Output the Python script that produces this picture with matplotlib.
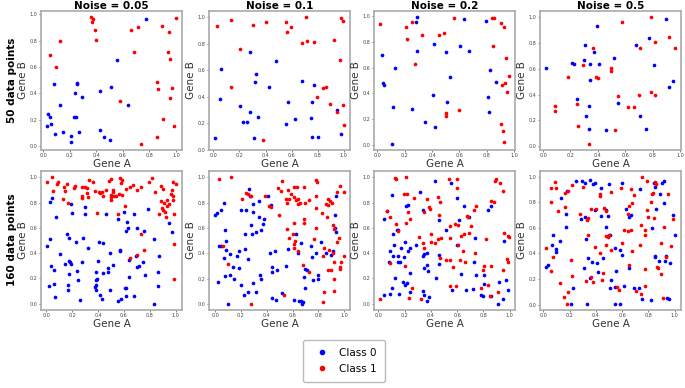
import numpy as np
import matplotlib
matplotlib.use("Agg")
import matplotlib.pyplot as plt
from matplotlib.lines import Line2D

noise_levels = ["0.05", "0.1", "0.2", "0.5"]
row_labels = ["50 data points", "160 data points"]
class_labels = ["Class 0", "Class 1"]
class_colors = ["blue", "red"]

# ---------- 50 data points ----------
n50_a_c0 = [(0.771,0.965),(0.553,0.653),(0.080,0.470),(0.256,0.478),(0.256,0.468),(0.236,0.403),(0.294,0.373),
            (0.123,0.313),(0.425,0.415),(0.513,0.445),(0.636,0.315),(0.033,0.245),(0.053,0.218),(0.030,0.153),
            (0.060,0.170),(0.231,0.218),(0.244,0.218),(0.088,0.090),(0.146,0.103),(0.271,0.110),(0.209,0.078),
            (0.206,0.030),(0.430,0.123),(0.457,0.065),(0.505,0.045)]
n50_a_c1 = [(0.357,0.978),(0.377,0.963),(0.369,0.945),(0.392,0.885),(0.394,0.808),(0.128,0.795),(0.050,0.688),
            (0.095,0.600),(0.663,0.878),(0.714,0.903),(0.681,0.718),(0.897,0.913),(0.950,0.865),(0.997,0.975),
            (0.942,0.713),(0.957,0.663),(0.854,0.488),(0.867,0.430),(0.970,0.440),(0.955,0.368),(0.580,0.345),
            (0.899,0.205),(0.982,0.153),(0.854,0.068),(0.739,0.018)]

n50_b_c0 = [(0.281,0.740),(0.482,0.665),(0.056,0.607),(0.327,0.573),(0.321,0.511),(0.429,0.470),(0.684,0.516),
            (0.770,0.489),(0.204,0.330),(0.281,0.289),(0.224,0.212),(0.260,0.214),(0.344,0.251),(0.571,0.361),
            (0.755,0.357),(0.952,0.304),(0.747,0.243),(0.556,0.198),(0.628,0.231),(0.309,0.092),(0.755,0.099),
            (0.806,0.096),(0.977,0.120),(0.015,0.092),(0.050,0.386)]
n50_b_c1 = [(0.026,0.928),(0.133,0.978),(0.301,0.937),(0.401,0.961),(0.556,0.959),(0.597,0.925),(0.566,0.884),
            (0.714,0.998),(0.681,0.807),(0.717,0.822),(0.770,0.810),(0.202,0.759),(0.133,0.470),(0.929,0.824),
            (0.980,0.993),(0.997,0.969),(0.969,0.675),(0.842,0.467),(0.867,0.470),(0.793,0.395),(0.895,0.342),
            (0.995,0.337),(0.949,0.287),(1.000,0.186),(0.380,0.072)]

n50_c_c0 = [(0.286,0.992),(0.279,0.954),(0.636,0.977),(0.796,0.961),(0.413,0.781),(0.286,0.730),(0.498,0.725),
            (0.604,0.769),(0.670,0.730),(0.036,0.699),(0.129,0.594),(0.823,0.581),(0.041,0.483),(0.051,0.463),
            (0.529,0.530),(0.866,0.488),(0.403,0.386),(0.510,0.334),(0.808,0.373),(0.117,0.296),(0.252,0.278),
            (0.816,0.252),(0.350,0.180),(0.422,0.139),(0.107,0.008)]
n50_c_c1 = [(0.022,0.938),(0.211,0.918),(0.252,0.959),(0.218,0.825),(0.328,0.851),(0.451,0.853),(0.485,0.866),
            (0.563,0.987),(0.840,0.987),(0.854,0.990),(0.905,0.949),(0.925,0.913),(0.845,0.769),(0.274,0.625),
            (0.939,0.679),(0.959,0.532),(0.932,0.483),(0.908,0.463),(0.951,0.409),(0.597,0.267),(0.500,0.244),
            (0.500,0.221),(0.903,0.162),(0.920,0.103),(0.922,0.018)]

n50_d_c0 = [(0.901,0.982),(0.395,0.931),(0.775,0.835),(0.305,0.781),(0.678,0.781),(0.375,0.728),(0.298,0.664),
            (0.211,0.641),(0.225,0.639),(0.339,0.639),(0.412,0.636),(0.521,0.682),(0.024,0.606),(0.809,0.629),
            (0.339,0.511),(0.949,0.504),(0.923,0.458),(0.247,0.369),(0.334,0.313),(0.547,0.333),(0.312,0.234),
            (0.705,0.237),(0.334,0.130),(0.458,0.122),(0.753,0.137)]
n50_d_c1 = [(0.785,0.997),(0.574,0.959),(0.920,0.845),(0.818,0.804),(0.961,0.758),(0.705,0.761),(0.366,0.758),
            (0.291,0.631),(0.496,0.606),(0.496,0.583),(0.179,0.532),(0.385,0.532),(0.404,0.524),(0.087,0.310),
            (0.085,0.275),(0.247,0.328),(0.257,0.160),(0.550,0.387),(0.620,0.305),(0.666,0.303),(0.700,0.399),
            (0.792,0.420),(0.816,0.394),(0.528,0.127),(0.334,0.020)]

# ---------- 160 data points ----------
n160_a_c0 = [(0.031,0.807),(0.046,0.833),(0.075,0.686),(0.193,0.791),(0.196,0.720),(0.302,0.765),(0.296,0.712),
             (0.162,0.553),(0.175,0.522),(0.031,0.509),(0.227,0.485),(0.284,0.522),(0.405,0.490),(0.436,0.482),
             (0.464,0.710),(0.554,0.671),(0.603,0.728),(0.624,0.644),(0.619,0.579),(0.634,0.600),(0.678,0.707),
             (0.701,0.595),(0.755,0.579),(0.786,0.752),(0.835,0.512),(0.948,0.642),(0.969,0.569),(0.008,0.455),
             (0.106,0.392),(0.034,0.301),(0.057,0.267),(0.147,0.314),(0.175,0.340),(0.186,0.327),(0.191,0.314),
             (0.325,0.437),(0.278,0.332),(0.399,0.340),(0.490,0.405),(0.567,0.413),(0.572,0.424),(0.518,0.306),
             (0.479,0.282),(0.479,0.248),(0.436,0.243),(0.381,0.254),(0.392,0.196),(0.387,0.186),(0.235,0.261),
             (0.242,0.191),(0.175,0.233),(0.170,0.149),(0.170,0.112),(0.057,0.157),(0.021,0.139),(0.070,0.050),
             (0.258,0.029),(0.381,0.144),(0.379,0.131),(0.381,0.105),(0.415,0.065),(0.428,0.034),(0.495,0.112),
             (0.552,0.018),(0.575,0.034),(0.619,0.123),(0.608,0.123),(0.619,0.063),(0.639,0.214),(0.639,0.348),
             (0.680,0.060),(0.701,0.293),(0.716,0.301),(0.696,0.379),(0.750,0.332),(0.763,0.227),(0.830,0.000),
             (0.861,0.139),(0.866,0.248),(0.871,0.376)]
n160_a_c1 = [(0.008,0.966),(0.046,1.000),(0.054,0.893),(0.082,0.948),(0.090,0.961),(0.131,0.830),(0.142,0.893),
             (0.139,0.927),(0.160,0.945),(0.170,0.796),(0.211,0.919),(0.224,0.935),(0.273,0.854),(0.273,0.836),
             (0.278,0.920),(0.299,0.927),(0.312,0.875),(0.320,0.843),(0.317,0.914),(0.332,0.982),(0.361,0.964),
             (0.379,0.893),(0.394,0.718),(0.405,0.880),(0.418,0.875),(0.428,0.883),(0.436,0.856),(0.461,0.901),
             (0.487,0.974),(0.503,0.985),(0.497,0.862),(0.503,0.822),(0.503,0.843),(0.515,0.883),(0.515,0.896),
             (0.526,0.854),(0.541,0.854),(0.552,0.713),(0.562,0.869),(0.570,0.993),(0.575,0.954),(0.582,0.980),
             (0.582,0.859),(0.608,0.775),(0.613,0.906),(0.649,0.927),(0.670,0.940),(0.698,0.896),(0.732,0.927),
             (0.732,0.553),(0.796,0.966),(0.820,0.998),(0.838,0.885),(0.869,0.710),(0.887,0.815),(0.889,0.932),
             (0.899,0.911),(0.894,0.757),(0.899,0.744),(0.912,0.796),(0.918,0.723),(0.923,0.686),(0.933,0.817),
             (0.933,0.775),(0.948,0.786),(0.961,0.869),(0.972,0.901),(0.977,0.964),(0.979,0.854),(0.979,0.820),
             (0.987,0.710),(1.000,0.948),(0.985,0.475),(0.644,0.358),(0.698,0.384),(0.753,0.424),(0.985,0.199)]

n160_b_c0 = [(0.003,0.705),(0.018,0.715),(0.044,0.744),(0.070,0.794),(0.080,0.587),(0.088,0.500),(0.201,0.744),
             (0.240,0.744),(0.263,0.909),(0.271,0.854),(0.291,0.788),(0.294,0.723),(0.276,0.627),(0.232,0.553),
             (0.286,0.556),(0.320,0.571),(0.358,0.587),(0.340,0.817),(0.343,0.684),(0.381,0.673),(0.371,0.634),
             (0.407,0.856),(0.430,0.780),(0.626,0.556),(0.662,0.483),(0.742,0.462),(0.822,0.493),(0.938,0.851),
             (0.928,0.702),(0.930,0.600),(0.936,0.571),(0.031,0.460),(0.046,0.455),(0.088,0.426),(0.067,0.366),
             (0.116,0.392),(0.183,0.418),(0.170,0.379),(0.232,0.431),(0.258,0.358),(0.137,0.290),(0.183,0.288),
             (0.075,0.220),(0.116,0.227),(0.149,0.196),(0.023,0.178),(0.201,0.152),(0.222,0.071),(0.253,0.099),
             (0.291,0.170),(0.317,0.097),(0.345,0.227),(0.356,0.196),(0.103,0.003),(0.428,0.405),(0.464,0.421),
             (0.443,0.293),(0.443,0.256),(0.479,0.267),(0.438,0.044),(0.472,0.029),(0.521,0.084),(0.552,0.298),
             (0.567,0.437),(0.608,0.031),(0.639,0.400),(0.652,0.026),(0.665,0.021),(0.670,0.003),(0.680,0.013),
             (0.686,0.217),(0.696,0.275),(0.711,0.267),(0.696,0.125),(0.747,0.371),(0.781,0.405),(0.758,0.191),
             (0.799,0.227),(0.799,0.201),(0.861,0.400),(0.897,0.387),(0.910,0.418)]
n160_b_c1 = [(0.034,0.984),(0.126,1.000),(0.209,0.828),(0.242,0.880),(0.255,0.867),(0.278,0.849),(0.387,0.856),
             (0.420,0.775),(0.436,0.765),(0.485,0.919),(0.492,0.702),(0.510,0.893),(0.521,0.972),(0.546,0.828),
             (0.559,0.796),(0.564,0.896),(0.575,0.828),(0.588,0.870),(0.608,0.922),(0.613,0.843),(0.624,0.820),
             (0.634,0.927),(0.639,0.788),(0.639,0.830),(0.655,0.801),(0.686,0.922),(0.696,0.801),(0.727,0.822),
             (0.784,0.979),(0.789,0.961),(0.784,0.856),(0.781,0.757),(0.825,0.718),(0.856,0.791),(0.866,0.686),
             (0.871,0.830),(0.876,0.783),(0.892,0.812),(0.907,0.801),(0.912,0.626),(0.943,0.883),(0.966,0.935),
             (0.995,0.883),(0.923,0.595),(0.961,0.522),(0.941,0.488),(0.686,0.674),(0.686,0.640),(0.613,0.640),
             (0.554,0.595),(0.575,0.524),(0.606,0.553),(0.616,0.496),(0.608,0.472),(0.778,0.598),(0.763,0.514),
             (0.059,0.455),(0.613,0.444),(0.644,0.418),(0.678,0.306),(0.729,0.256),(0.838,0.379),(0.845,0.439),
             (0.881,0.426),(0.912,0.400),(0.876,0.272),(0.897,0.267),(0.923,0.335),(0.974,0.332),(0.964,0.293),
             (0.969,0.275),(0.995,0.379),(0.918,0.196),(0.918,0.105),(0.840,0.099),(0.835,0.018),(0.103,0.314),
             (0.278,0.003),(0.531,0.068)]

n160_c_c0 = [(0.106,0.864),(0.207,0.775),(0.225,0.783),(0.313,0.885),(0.336,0.744),(0.429,0.971),(0.553,0.953),
             (0.601,0.833),(0.460,0.661),(0.515,0.582),(0.611,0.661),(0.652,0.775),(0.687,0.686),(0.838,0.740),
             (0.856,0.775),(0.040,0.671),(0.066,0.734),(0.152,0.587),(0.141,0.580),(0.114,0.553),(0.121,0.467),
             (0.202,0.490),(0.288,0.461),(0.601,0.461),(0.737,0.519),(0.955,0.493),(0.088,0.413),(0.114,0.374),
             (0.152,0.374),(0.146,0.332),(0.167,0.332),(0.192,0.369),(0.169,0.442),(0.227,0.413),(0.240,0.437),
             (0.083,0.327),(0.338,0.379),(0.348,0.392),(0.369,0.405),(0.348,0.282),(0.374,0.261),(0.369,0.306),
             (0.237,0.241),(0.126,0.201),(0.184,0.170),(0.202,0.149),(0.217,0.165),(0.101,0.128),(0.040,0.071),
             (0.086,0.076),(0.159,0.076),(0.242,0.092),(0.343,0.097),(0.348,0.071),(0.369,0.024),(0.384,0.055),
             (0.439,0.201),(0.462,0.387),(0.462,0.316),(0.558,0.107),(0.626,0.235),(0.669,0.112),(0.722,0.118),
             (0.727,0.332),(0.742,0.227),(0.783,0.065),(0.798,0.058),(0.803,0.154),(0.808,0.227),(0.859,0.058),
             (0.909,0.000),(0.919,0.175),(0.949,0.034),(0.975,0.191),(0.987,0.107)]
n160_c_c1 = [(0.126,0.998),(0.134,0.985),(0.210,1.000),(0.192,0.869),(0.217,0.869),(0.268,0.836),(0.371,0.828),
             (0.386,0.765),(0.394,0.749),(0.351,0.723),(0.455,0.843),(0.470,0.804),(0.462,0.705),(0.066,0.731),
             (0.088,0.686),(0.136,0.634),(0.146,0.574),(0.222,0.726),(0.242,0.674),(0.210,0.640),(0.308,0.527),
             (0.336,0.483),(0.404,0.553),(0.399,0.490),(0.434,0.482),(0.457,0.514),(0.475,0.516),(0.538,0.985),
             (0.601,0.985),(0.596,0.919),(0.548,0.613),(0.545,0.516),(0.583,0.628),(0.606,0.626),(0.626,0.537),
             (0.604,0.464),(0.652,0.553),(0.672,0.697),(0.682,0.686),(0.694,0.561),(0.727,0.744),(0.740,0.775),
             (0.702,0.613),(0.818,0.514),(0.856,0.809),(0.879,0.807),(0.891,0.974),(0.899,0.990),(0.924,0.953),
             (0.947,0.893),(0.960,0.558),(0.987,0.535),(0.992,0.527),(0.346,0.442),(0.470,0.358),(0.513,0.348),
             (0.545,0.348),(0.571,0.288),(0.641,0.418),(0.621,0.348),(0.657,0.327),(0.737,0.405),(0.798,0.264),
             (0.808,0.301),(0.859,0.301),(0.838,0.149),(0.783,0.125),(0.848,0.060),(0.912,0.089),(0.949,0.267),
             (0.982,0.353),(0.987,0.327),(0.091,0.322),(0.202,0.301),(0.253,0.123),(0.235,0.047),(0.328,0.039),
             (0.545,0.136),(0.593,0.139),(0.015,0.039)]

n160_d_c0 = [(0.134,0.835),(0.181,0.889),(0.247,0.969),(0.295,0.969),(0.320,0.953),(0.358,0.974),(0.375,0.943),
             (0.395,0.953),(0.436,0.910),(0.499,0.943),(0.597,0.953),(0.738,0.902),(0.846,0.948),(0.851,0.917),
             (0.902,0.948),(0.922,0.966),(0.889,0.866),(0.861,0.750),(0.917,0.794),(0.985,0.701),(0.176,0.708),
             (0.169,0.610),(0.285,0.672),(0.315,0.685),(0.390,0.737),(0.436,0.690),(0.481,0.742),(0.491,0.690),
             (0.481,0.608),(0.504,0.541),(0.632,0.745),(0.652,0.685),(0.668,0.703),(0.826,0.600),(1.000,0.548),
             (0.076,0.548),(0.123,0.499),(0.327,0.510),(0.063,0.466),(0.093,0.436),(0.093,0.415),(0.023,0.297),
             (0.038,0.313),(0.340,0.362),(0.368,0.333),(0.411,0.328),(0.456,0.362),(0.310,0.290),(0.416,0.256),
             (0.358,0.210),(0.224,0.128),(0.209,0.008),(0.330,0.008),(0.514,0.190),(0.511,0.131),(0.542,0.444),
             (0.557,0.267),(0.584,0.428),(0.597,0.392),(0.612,0.144),(0.547,0.141),(0.549,0.008),(0.587,0.008),
             (0.655,0.290),(0.688,0.133),(0.730,0.131),(0.751,0.041),(0.821,0.038),(0.849,0.379),(0.849,0.369),
             (0.884,0.341),(0.924,0.341),(0.934,0.379),(0.965,0.323),(0.945,0.056),(0.960,0.041)]
n160_d_c1 = [(0.058,0.915),(0.088,0.961),(0.093,0.915),(0.055,0.799),(0.111,0.734),(0.166,0.763),(0.166,0.876),
             (0.184,0.892),(0.219,0.935),(0.305,0.917),(0.282,0.708),(0.332,0.665),(0.340,0.680),(0.365,0.747),
             (0.398,0.747),(0.431,0.866),(0.431,0.850),(0.461,0.758),(0.479,0.732),(0.516,0.884),(0.481,0.535),
             (0.491,0.528),(0.501,0.541),(0.340,0.548),(0.594,0.915),(0.617,0.587),(0.642,0.574),(0.668,0.587),
             (0.602,0.479),(0.670,0.902),(0.693,0.858),(0.655,0.768),(0.673,0.794),(0.647,0.711),(0.753,0.995),
             (0.788,0.966),(0.746,0.626),(0.786,0.742),(0.778,0.582),(0.773,0.546),(0.819,0.799),(0.831,0.866),
             (0.839,0.876),(0.854,0.961),(0.861,0.943),(0.798,0.683),(0.844,0.677),(0.917,0.608),(0.952,0.866),
             (0.990,0.670),(0.898,0.479),(0.736,0.466),(0.023,0.446),(0.073,0.369),(0.058,0.267),(0.212,0.349),
             (0.217,0.221),(0.123,0.167),(0.154,0.064),(0.184,0.097),(0.179,0.008),(0.327,0.185),(0.360,0.213),
             (0.380,0.179),(0.395,0.451),(0.431,0.405),(0.451,0.246),(0.446,0.195),(0.479,0.464),(0.516,0.426),
             (0.562,0.136),(0.577,0.118),(0.673,0.423),(0.655,0.308),(0.703,0.110),(0.741,0.085),(0.773,0.277),
             (0.778,0.149),(0.864,0.297),(0.874,0.287),(0.899,0.238),(0.909,0.051),(0.932,0.374),(0.970,0.456)]

panels = [
    [(n50_a_c0, n50_a_c1), (n50_b_c0, n50_b_c1), (n50_c_c0, n50_c_c1), (n50_d_c0, n50_d_c1)],
    [(n160_a_c0, n160_a_c1), (n160_b_c0, n160_b_c1), (n160_c_c0, n160_c_c1), (n160_d_c0, n160_d_c1)],
]

W, H = 685, 388
fig = plt.figure(figsize=(W / 100, H / 100), dpi=100)

lefts = [41, 209, 374, 540]
tops = [11, 171]
aw, ah = 141, 139

for r in range(2):
    for c in range(4):
        ax = fig.add_axes([lefts[c] / W, (H - tops[r] - ah) / H, aw / W, ah / H])
        for k, pts in enumerate(panels[r][c]):
            arr = np.array(pts)
            ax.scatter(arr[:, 0], arr[:, 1], s=7, color=class_colors[k], linewidths=0, zorder=3)
        ax.set_xticks([0, 0.2, 0.4, 0.6, 0.8, 1.0])
        ax.set_yticks([0, 0.2, 0.4, 0.6, 0.8, 1.0])
        ax.tick_params(labelsize=3.5, length=1.5, width=0.5, pad=1, colors='#444444')
        for sp in ax.spines.values():
            sp.set_color('#aaaaaa')
            sp.set_linewidth(1.2)
        ax.set_xlabel("Gene A", fontsize=7.5, labelpad=0.5, color='#333333')
        ax.set_ylabel("Gene B", fontsize=7.5, labelpad=1, color='#333333')
        if r == 0:
            ax.set_title("Noise = " + noise_levels[c], fontsize=7.5, fontweight='bold', pad=1)

fig.text(12 / W, 1 - 80 / H, row_labels[0], rotation=90, ha='center', va='center',
         fontsize=7.5, fontweight='bold')
fig.text(12 / W, 1 - 240 / H, row_labels[1], rotation=90, ha='center', va='center',
         fontsize=7.5, fontweight='bold')

handles = [Line2D([], [], marker='o', linestyle='', color=class_colors[k], markersize=3)
           for k in range(2)]
leg = fig.legend(handles, class_labels, loc='center', bbox_to_anchor=(344 / W, 1 - 361 / H),
                 fontsize=7.5, frameon=True, handletextpad=0.6, borderpad=0.8, labelspacing=0.6)
leg.get_frame().set_edgecolor('#aaaaaa')

fig.savefig("out.png", dpi=100)
